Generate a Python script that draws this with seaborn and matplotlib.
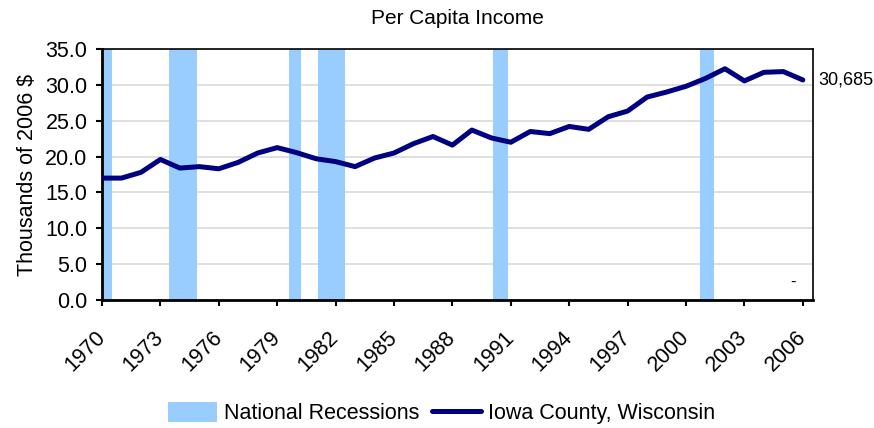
import matplotlib
matplotlib.use('Agg')
import matplotlib.pyplot as plt
from matplotlib.patches import Patch
from matplotlib.lines import Line2D
import seaborn as sns
import pandas as pd

# Per capita income, Iowa County WI (thousands of 2006 $)
years = list(range(1970, 2007))
income = [17.0, 17.0, 17.8, 19.6, 18.4, 18.6, 18.3, 19.2, 20.5, 21.25,
          20.55, 19.7, 19.3, 18.6, 19.8, 20.5, 21.8, 22.8, 21.6, 23.7,
          22.6, 22.0, 23.5, 23.2, 24.2, 23.8, 25.55, 26.35, 28.3, 29.0,
          29.8, 30.9, 32.25, 30.55, 31.75, 31.85, 30.685]

# National recession periods (start, end)
rec_start = [1970.0, 1973.45, 1979.6, 1981.1, 1990.1, 2000.7]
rec_end = [1970.5, 1974.9, 1980.2, 1982.5, 1990.85, 2001.45]

tick_years = list(range(1970, 2007, 3))
y_ticks = [0, 5, 10, 15, 20, 25, 30, 35]

sns.set_style('white')
plt.rcParams['font.family'] = ['Liberation Sans', 'DejaVu Sans']
plt.rcParams['text.color'] = 'black'
plt.rcParams['xtick.color'] = 'black'
plt.rcParams['ytick.color'] = 'black'
plt.rcParams['axes.labelcolor'] = 'black'

bar_color = '#99ccff'
line_color = '#000080'

df = pd.DataFrame({'year': years, 'income': income})

fig = plt.figure(figsize=(8.74, 4.28), dpi=100)
ax = fig.add_axes([0.1167, 0.299, 0.813, 0.5865])

for s, e in zip(rec_start, rec_end):
    ax.axvspan(s, e, color=bar_color, lw=0, zorder=1)

sns.lineplot(data=df, x='year', y='income', color=line_color, lw=3.6,
             ax=ax, zorder=3)

ax.set_xlim(1970, 2006.5)
ax.set_ylim(0, 35)
ax.set_yticks(y_ticks)
ax.set_yticklabels([f'{v:.1f}' for v in y_ticks], fontsize=15.5)
ax.set_xticks(tick_years)
ax.set_xticklabels([str(y) for y in tick_years], fontsize=15.5,
                   rotation=45, ha='right', va='center',
                   rotation_mode='anchor')
ax.tick_params(axis='both', direction='out', length=4.5, width=1.5,
               color='black', left=True, bottom=True)
ax.tick_params(axis='x', pad=20)
ax.tick_params(axis='y', pad=6)
ax.yaxis.grid(True, color='#d9d9d9', lw=1.2, zorder=0)
ax.set_axisbelow(True)

for side in ['left', 'bottom']:
    ax.spines[side].set_color('black')
    ax.spines[side].set_linewidth(2)
for side in ['top', 'right']:
    ax.spines[side].set_color('black')
    ax.spines[side].set_linewidth(1.2)

ax.set_xlabel('')
ax.set_ylabel('Thousands of 2006 $', fontsize=15.5, labelpad=5)
ax.set_title('Per Capita Income', fontsize=15, pad=18)

# end-point label
ax.text(2006.5 + 0.3, income[-1], '30,685', fontsize=13, va='center',
        ha='left', clip_on=False)
ax.text(2005.5, 2.5, '-', fontsize=12, va='center', ha='center')

handles = [Patch(facecolor=bar_color, edgecolor='none'),
           Line2D([0], [0], color=line_color, lw=3.6)]
fig.legend(handles, ['National Recessions', 'Iowa County, Wisconsin'],
           loc='center', bbox_to_anchor=(0.505, 0.035), ncol=2, frameon=False,
           fontsize=15.5, handlelength=2.3, handleheight=1.1,
           handletextpad=0.3, columnspacing=0.6)

fig.savefig('out.png', dpi=100)
